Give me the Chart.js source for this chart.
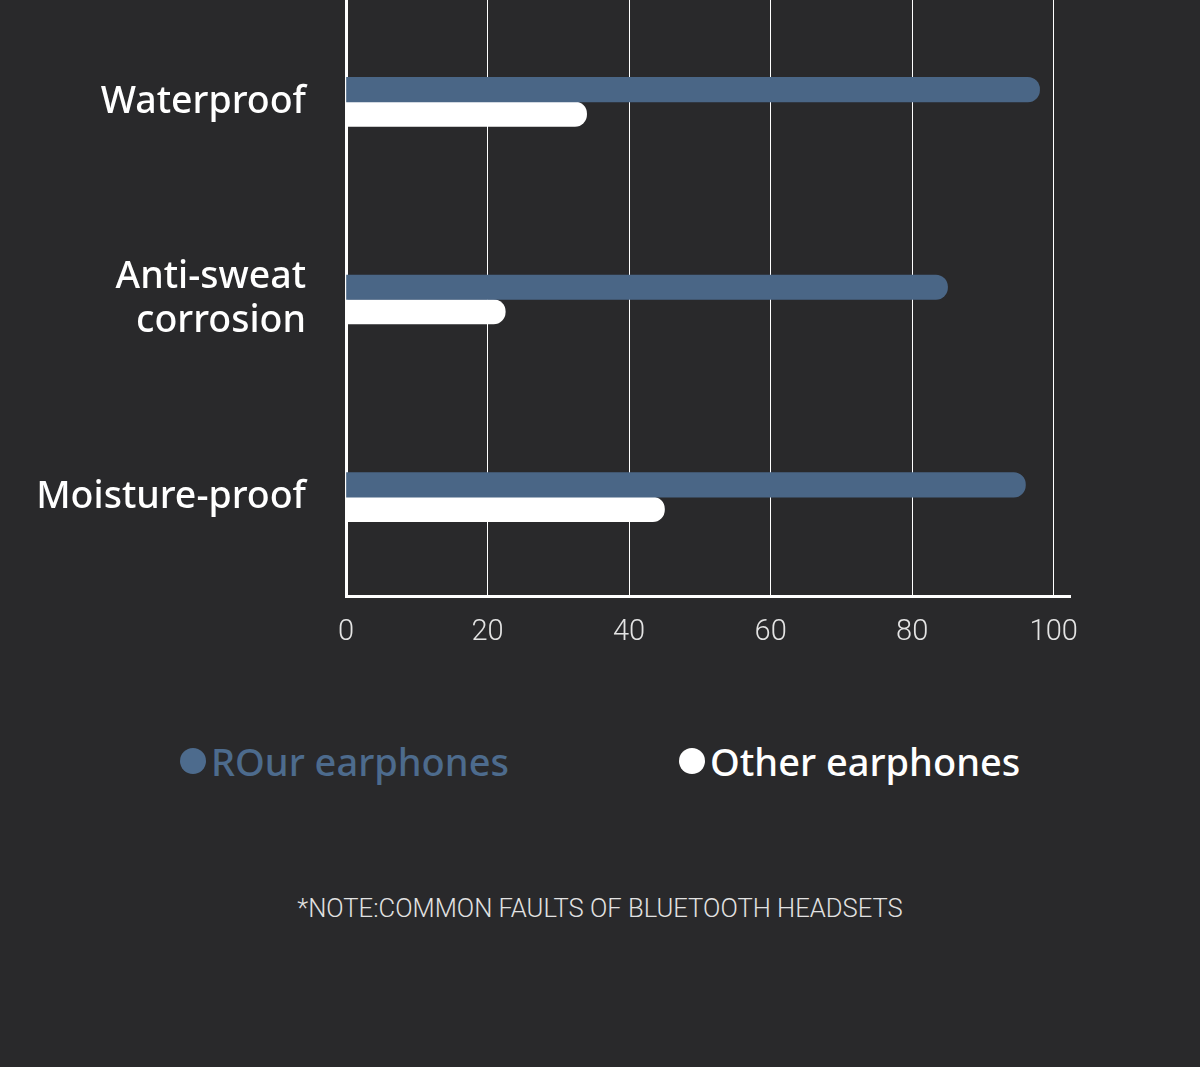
<!DOCTYPE html>
<html>
<head>
<meta charset="utf-8">
<script src="https://cdn.jsdelivr.net/npm/chart.js@4/dist/chart.umd.min.js"></script>
<style>
  html, body { margin: 0; padding: 0; background: #29292b; }
  #wrap { position: relative; width: 1200px; height: 1067px; background: #29292b; overflow: hidden; }
  #chart-box { position: absolute; left: 0; top: 0; width: 1200px; height: 660px; }
  .legend-item { position: absolute; top: 737px; height: 48px; display: flex; align-items: center;
    font-family: "Noto Sans", "Open Sans", sans-serif; font-weight: 500; font-size: 38px; white-space: nowrap; }
  .legend-item .dot { display: inline-block; width: 26px; height: 26px; border-radius: 50%; margin-right: 5px; }
  #note { position: absolute; left: 0; width: 1200px; top: 893px; text-align: center;
    font-family: Roboto, sans-serif; font-weight: 300; font-size: 25.6px; color: #e2e2e2; }
</style>
</head>
<body>
<div id="wrap">
  <div id="chart-box"><canvas id="chartFaults"></canvas></div>
  <div class="legend-item" id="lg-our" style="left:180px;color:#4d6b8d"><span class="dot" style="background:#4d6b8d"></span><span class="txt"></span></div>
  <div class="legend-item" id="lg-other" style="left:679px;color:#ffffff"><span class="dot" style="background:#ffffff"></span><span class="txt"></span></div>
  <div id="note">*NOTE:COMMON FAULTS OF BLUETOOTH HEADSETS</div>
</div>
<script>
// ---- data ----
const CATEGORIES = ["Waterproof", ["Anti-sweat", "corrosion"], "Moisture-proof"];
const SERIES_NAMES = ["ROur earphones", "Other earphones"];
const OUR_VALUES = [98, 85, 96];
const OTHER_VALUES = [34, 22.5, 45];
const TICK_VALUES = [0, 20, 40, 60, 80, 100];

const BLUE = "#4a6686";
const WHITE = "#ffffff";

document.querySelector("#lg-our .txt").textContent = SERIES_NAMES[0];
document.querySelector("#lg-other .txt").textContent = SERIES_NAMES[1];

// the grid in the reference runs right up to the top edge, above the chart area
const gridToTop = {
  id: "gridToTop",
  beforeDatasetsDraw(c) {
    const { ctx, chartArea, scales } = c;
    ctx.save();
    ctx.strokeStyle = WHITE;
    TICK_VALUES.forEach(v => {
      const w = v === 0 ? 3 : 1;
      const half = w / 2;
      const x = Math.round(scales.x.getPixelForValue(v) - half) + half; // same snapping Chart.js uses
      ctx.lineWidth = w;
      ctx.beginPath();
      ctx.moveTo(x, 0);
      ctx.lineTo(x, chartArea.top + 1);
      ctx.stroke();
    });
    ctx.restore();
  }
};

const chart = new Chart(document.getElementById("chartFaults"), {
  type: "bar",
  data: {
    labels: CATEGORIES,
    datasets: [
      { label: SERIES_NAMES[0], data: OUR_VALUES, backgroundColor: BLUE, barThickness: 24.5, borderRadius: 12, borderSkipped: "start" },
      { label: SERIES_NAMES[1], data: OTHER_VALUES, backgroundColor: WHITE, barThickness: 24.5, borderRadius: 12, borderSkipped: "start" },
    ]
  },
  options: {
    indexAxis: "y",
    responsive: true,
    maintainAspectRatio: false,
    animation: false,
    layout: { padding: { top: 3, right: 130, left: 0, bottom: 0 } },
    plugins: { legend: { display: false }, tooltip: { enabled: false } },
    scales: {
      x: {
        min: 0,
        max: 102.3,
        afterBuildTicks: s => { s.ticks = TICK_VALUES.map(v => ({ value: v })); },
        afterFit: s => { s.height = 64; },
        grid: { color: WHITE, lineWidth: 1, drawTicks: false },
        border: { display: true, color: WHITE, width: 3 },
        ticks: { color: "#e4e4e4", padding: 19, font: { family: "Roboto", weight: 300, size: 29 } },
      },
      y: {
        afterFit: s => { s.width = 346; s.paddingTop = 0; s.paddingBottom = 0; },
        grid: { display: false, drawTicks: false },
        border: { display: true, color: WHITE, width: 3 },
        ticks: { color: WHITE, padding: 40, font: { family: "Noto Sans", weight: 500, size: 37.5, lineHeight: 1.17 } },
      }
    }
  },
  plugins: [gridToTop]
});
</script>
</body>
</html>
